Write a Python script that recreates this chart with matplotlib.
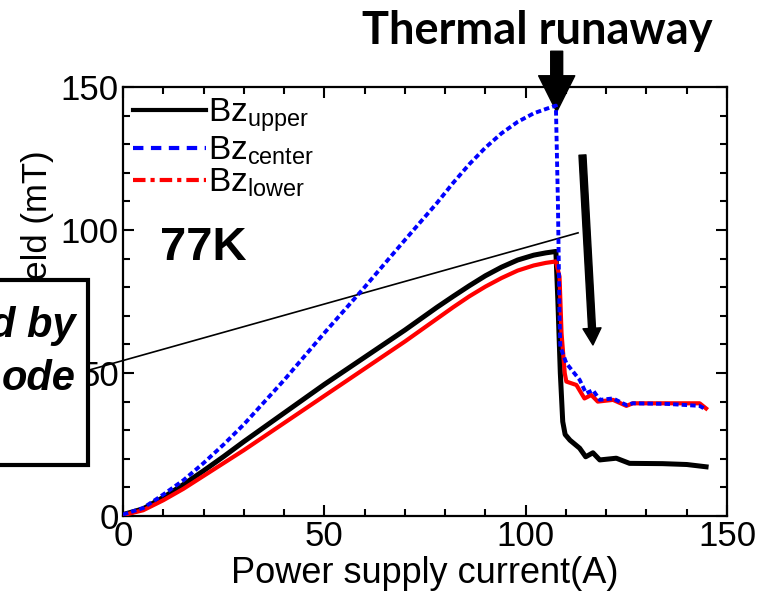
import numpy as np
import matplotlib
matplotlib.use("Agg")
import matplotlib.pyplot as plt
from matplotlib.lines import Line2D
from matplotlib.patches import Rectangle

plt.rcParams['font.family'] = ['Liberation Sans', 'DejaVu Sans']
plt.rcParams['mathtext.fontset'] = 'custom'
plt.rcParams['mathtext.rm'] = 'Liberation Sans'
plt.rcParams['mathtext.it'] = 'Liberation Sans:italic'

# rising part (shared current axis)
current_rise = [0, 5, 10, 15, 20, 25, 30, 40, 50, 60, 70, 78, 82, 86, 90, 94, 98, 102, 105, 107.5]
bz_upper_rise = [0.5, 2.5, 6.5, 11, 15.8, 20.8, 26, 36, 46, 55.5, 65, 73, 76.8, 80.5, 84, 87, 89.5, 91.2, 92, 92.5]
bz_center_rise = [0.5, 2.8, 7.5, 12.5, 18.5, 25, 32, 47.5, 64, 80, 96.5, 109.5, 116.5, 123, 128.8, 133.8, 137.8, 140.8, 142.3, 143.5]
bz_lower_rise = [0.3, 2, 5.5, 9.5, 14, 18.5, 23, 32.5, 42, 51.5, 61, 69, 73, 76.8, 80.2, 83.2, 85.8, 87.6, 88.5, 89]

# after thermal runaway
current_upper_post = [108.0, 108.6, 109.2, 109.8, 111, 113.4, 114.9, 116.7, 118.4, 122.5, 125.8, 134, 140, 144.8]
bz_upper_post = [75, 50, 33, 28.5, 26.5, 23.7, 20.7, 22.1, 19.6, 20.2, 18.4, 18.3, 18, 17.2]
current_center_post = [108.0, 108.2, 108.4, 108.6, 110.1, 113.4, 115, 116.7, 118.4, 121.7, 125, 126.6, 135, 143.2, 144.8]
bz_center_post = [110, 90, 70, 59.2, 53.4, 47.6, 42.9, 44, 40.6, 41.1, 38.8, 39.4, 39.2, 38.5, 37.2]
current_lower_post = [108.4, 108.9, 109.7, 110.1, 112.6, 114.6, 116.3, 117.9, 121.7, 125, 126.6, 135, 143.2, 144.8]
bz_lower_post = [83.7, 63.9, 49.9, 47, 45.8, 41.1, 42.3, 40, 40.6, 38.5, 39.4, 39.4, 39.4, 37.6]

# thin guide line
guide_x = [-9, 113]
guide_y = [50.8, 99]

current_upper = current_rise + current_upper_post
bz_upper = bz_upper_rise + bz_upper_post
current_center = current_rise + current_center_post
bz_center = bz_center_rise + bz_center_post
current_lower = current_rise + current_lower_post
bz_lower = bz_lower_rise + bz_lower_post

fig = plt.figure(figsize=(7.64, 5.95), dpi=100)
ax = fig.add_axes([0.161, 0.1328, 0.7906, 0.721])

ax.plot(guide_x, guide_y, color='k', lw=1.2, clip_on=False, zorder=2)
ax.plot(current_upper, bz_upper, color='k', lw=3.6, zorder=3)
ax.plot(current_lower, bz_lower, color='red', lw=3.0, zorder=4)
ax.plot(current_center, bz_center, color='blue', lw=2.8, dashes=(1.4, 0.8), zorder=5)

ax.set_xlim(0, 150)
ax.set_ylim(0, 150)
ax.set_xticks([0, 50, 100, 150])
ax.set_yticks([0, 50, 100, 150])
ax.set_xticks(np.arange(0, 151, 10), minor=True)
ax.set_yticks(np.arange(0, 151, 10), minor=True)
ax.tick_params(which='both', direction='in', top=True, right=True, width=1.5,
               labelsize=25, pad=3)
ax.tick_params(which='major', length=8)
ax.tick_params(which='minor', length=5)
for s in ax.spines.values():
    s.set_linewidth(1.6)

ax.set_xlabel('Power supply current(A)', fontsize=26, labelpad=2)
ax.set_ylabel('Magnetic field (mT)', fontsize=25)
ax.yaxis.set_label_coords(-0.114, 0.505)

handles = [
    Line2D([], [], color='k', lw=3),
    Line2D([], [], color='blue', lw=3, dashes=(2.5, 1.8)),
    Line2D([], [], color='red', lw=3, dashes=(3, 1.2, 1, 1.2)),
]
labels = [r'Bz$_{\mathrm{upper}}$', r'Bz$_{\mathrm{center}}$', r'Bz$_{\mathrm{lower}}$']
ax.legend(handles, labels, loc='upper left', bbox_to_anchor=(0.0, 1.0),
          frameon=False, fontsize=24, handlelength=2.2, handletextpad=0.05,
          borderaxespad=0.1, labelspacing=0.0, borderpad=0.2)

ax.text(9.2, 89.5, '77K', fontsize=34, fontweight='bold', va='baseline')

# thermal runaway arrow
ax.annotate('', xy=(107.7, 141.3), xytext=(107.7, 162.5), annotation_clip=False,
            arrowprops=dict(width=8.6, headwidth=26, headlength=26, color='k', shrink=0))
ax.annotate('', xy=(116.7, 59.8), xytext=(114.1, 126.2), annotation_clip=False,
            arrowprops=dict(width=5, headwidth=13, headlength=12, color='k', shrink=0))

fig.text(0.703, 0.926, 'Thermal runaway', fontsize=32.5, fontweight='bold',
         family=['Lato', 'DejaVu Sans'], ha='center', va='baseline')

# box on left edge
box = Rectangle((-0.02, 1 - 465 / 595), 0.135, 185 / 595, transform=fig.transFigure,
                facecolor='white', edgecolor='k', lw=3, zorder=10)
fig.add_artist(box)
fig.text(0.099, 1 - 337 / 595, 'd by', fontsize=30, fontweight='bold', style='italic',
         ha='right', va='baseline', zorder=11)
fig.text(0.099, 1 - 390 / 595, 'ode', fontsize=30, fontweight='bold', style='italic',
         ha='right', va='baseline', zorder=11)

fig.savefig('out.png', dpi=100)
